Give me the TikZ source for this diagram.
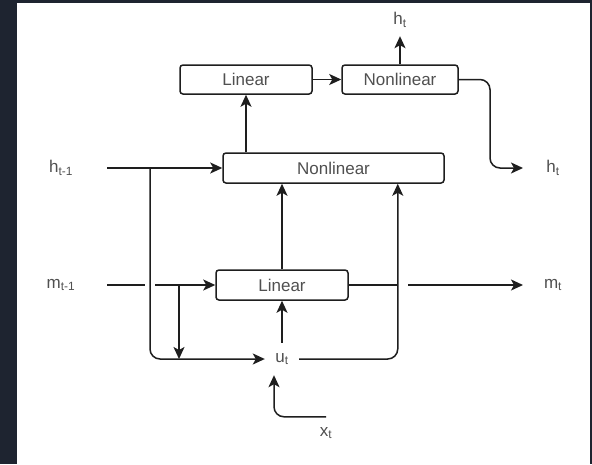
\documentclass[tikz,border=0pt]{standalone}
\usepackage{fontspec}
\setmainfont{Liberation Sans}
\usetikzlibrary{arrows.meta,calc}
\definecolor{edgegray}{RGB}{30,30,30}
\definecolor{txtgray}{RGB}{80,80,80}
\definecolor{panelbg}{RGB}{30,36,48}
\tikzset{blk/.style={draw=edgegray,line width=1.5pt,rounded corners=3pt,fill=white,minimum height=29pt,inner sep=0pt,font=\fontsize{17}{18}\selectfont,text=txtgray}, lbl/.style={inner sep=0pt,minimum height=32pt,font=\fontsize{17}{18}\selectfont,text=txtgray}, arr/.style={draw=edgegray,line width=1.5pt,-{Stealth[length=12pt,width=11pt,inset=3pt]}}}

\begin{document}
\begin{tikzpicture}[x=1pt,y=-1pt]
\fill[panelbg] (0,0) rectangle (592,464);
\fill[white] (17,3) rectangle (590,464);
% boxes
\node[blk,minimum width=132pt] (lin1) at (246,79.5) {Linear};
\node[blk,minimum width=116pt] (nl1) at (400,79.5) {Nonlinear};
\node[blk,minimum width=221pt,minimum height=30pt] (nl2) at (333.5,168) {Nonlinear};
\node[blk,minimum width=132pt,minimum height=30pt] (lin2) at (282,285) {Linear};
% labels
\node[lbl] (httop) at (400,20) {h\textsubscript{t}};
\node[lbl] (hprev) at (61,168) {h\textsubscript{t-1}};
\node[lbl] (mprev) at (61,285) {m\textsubscript{t-1}};
\node[lbl] (hnext) at (553,168) {h\textsubscript{t}};
\node[lbl] (mnext) at (553,285) {m\textsubscript{t}};
\node[lbl,minimum width=34pt] (ut) at (282,359) {u\textsubscript{t}};
\node[lbl] (xt) at (326,433) {x\textsubscript{t}};
\coordinate (hin) at (107,168);
\coordinate (min) at (107,285);
\coordinate (hout) at (523,168);
\coordinate (mout) at (523,285);
\coordinate (jh) at (150,168);
\coordinate (jm) at (179,285);
\coordinate (rr) at (490,168);
% state lines
\draw[arr] (hin) -- (nl2);
\draw[arr] (min) -- (lin2);
\draw[arr] (lin2) -- (mout);
\fill[white] ($(jh|-min)+(-5,-3)$) rectangle ++(10,6);
\fill[white] ($(nl2.south east|-min)+(-47,-3)$) rectangle ++(10,6);
\draw[arr,rounded corners=10pt] (jh) |- (ut.west);
\draw[arr] (jm) -- (jm|-ut);
\draw[arr,rounded corners=10pt] (ut.east) -| ([xshift=-47pt]nl2.south east);
\draw[arr,rounded corners=10pt] (xt.north) -| ([xshift=-8pt]ut.south);
\draw[arr] (ut) -- (lin2);
\draw[arr] (lin2) -- (lin2|-nl2.south);
\draw[arr] (lin1|-nl2.north) -- (lin1);
\draw[arr] (lin1) -- (nl1);
\draw[arr] (nl1) -- (httop);
\draw[arr,rounded corners=10pt] (nl1.east) -| (rr) -- (hout);
\end{tikzpicture}
\end{document}
